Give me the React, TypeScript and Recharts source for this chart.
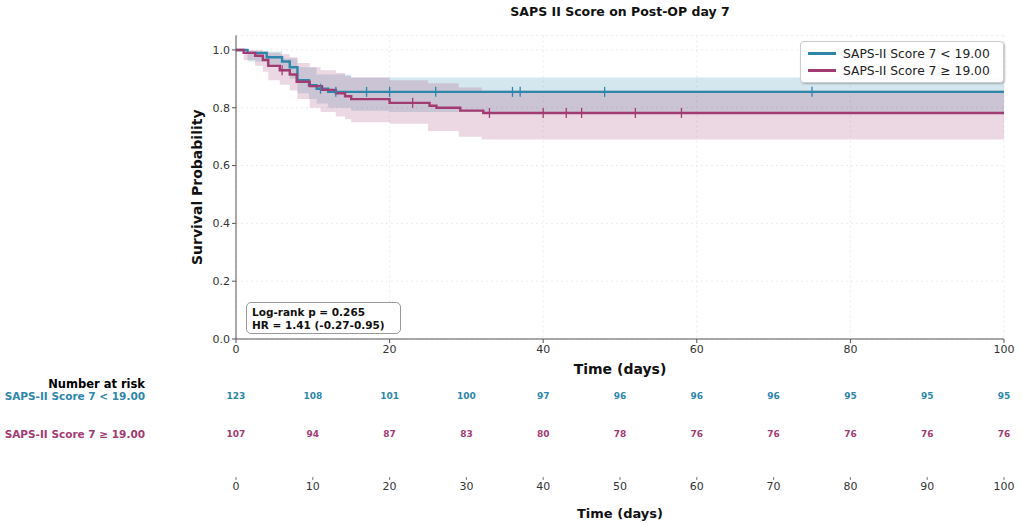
import {
  ComposedChart,
  Line,
  Area,
  Scatter,
  XAxis,
  YAxis,
  CartesianGrid,
} from "recharts";

const BLUE = "#2E86AB";
const MAGENTA = "#A23B72";
const FONT = "'DejaVu Sans', sans-serif";

const LOW_LABEL = "SAPS-II Score 7 < 19.00";
const HIGH_LABEL = "SAPS-II Score 7 ≥ 19.00";

// Kaplan-Meier steps, low score group
const LOW_T = [0, 1.5, 4, 6, 7, 8, 9.5, 10.5, 12, 100];
const LOW_S = [1.0, 0.99, 0.975, 0.96, 0.94, 0.895, 0.878, 0.866, 0.855, 0.855];
const LOW_CI_T = [0, 1.5, 4, 6, 7, 8, 9.5, 10.5, 12, 15, 20, 100];
const LOW_CI_LO = [1.0, 0.96, 0.945, 0.925, 0.9, 0.85, 0.83, 0.815, 0.8, 0.79, 0.785, 0.785];
const LOW_CI_HI = [1.0, 0.995, 0.995, 0.97, 0.97, 0.94, 0.94, 0.915, 0.915, 0.905, 0.905, 0.905];
const LOW_CENSOR = [11, 13, 17, 20, 26, 36, 37, 48, 75];

// high score group
const HIGH_T = [0, 1, 2.5, 3.5, 4.2, 5.7, 7, 7.9, 9.6, 11.2, 13, 14.2, 15, 20, 25.2, 26.1, 29.2, 32.2, 100];
const HIGH_S = [1.0, 0.99, 0.98, 0.965, 0.945, 0.93, 0.915, 0.89, 0.875, 0.862, 0.85, 0.84, 0.83, 0.817, 0.807, 0.8, 0.79, 0.782, 0.782];
const HIGH_CI_T = [0, 1, 2.5, 3.5, 4.2, 5.7, 7, 8, 9.6, 11, 13, 14.2, 15, 20, 25, 29, 32, 100];
const HIGH_CI_LO = [1.0, 0.965, 0.945, 0.925, 0.895, 0.88, 0.86, 0.83, 0.8, 0.785, 0.77, 0.76, 0.75, 0.745, 0.72, 0.7, 0.69, 0.69];
const HIGH_CI_HI = [1.0, 1.0, 1.0, 0.995, 0.99, 0.985, 0.975, 0.955, 0.94, 0.93, 0.92, 0.91, 0.905, 0.895, 0.885, 0.87, 0.86, 0.86];
const HIGH_CENSOR = [6, 23, 33, 40, 43, 45, 52, 58];

// number at risk
const RISK_T = [0, 10, 20, 30, 40, 50, 60, 70, 80, 90, 100];
const RISK_LOW = [123, 108, 101, 100, 97, 96, 96, 96, 95, 95, 95];
const RISK_HIGH = [107, 94, 87, 83, 80, 78, 76, 76, 76, 76, 76];

const X_TICKS = [0, 20, 40, 60, 80, 100];
const Y_TICKS = [0, 0.2, 0.4, 0.6, 0.8, 1.0];

const steps = (t: number[], s: number[]) => t.map((x, i) => ({ t: x, s: s[i] }));
const band = (t: number[], lo: number[], hi: number[]) =>
  t.map((x, i) => ({ t: x, ci: [lo[i], hi[i]] }));
const survAt = (t: number[], s: number[], x: number) => {
  let v = s[0];
  t.forEach((tt, i) => {
    if (tt <= x) v = s[i];
  });
  return v;
};
const censor = (c: number[], t: number[], s: number[]) =>
  c.map((x) => ({ t: x, s: survAt(t, s, x) }));

// rows of the at-risk table (fraction of table height)
const ROW_HEAD = 0.96;
const ROW_LOW = 0.835;
const ROW_HIGH = 0.44;

const riskRows = (n: number[], row: number) => RISK_T.map((t, i) => ({ t, n: n[i], row }));

const censorShape = (color: string) => (p: any) => (
  <line x1={p.cx} x2={p.cx} y1={p.cy - 5} y2={p.cy + 5} stroke={color} strokeWidth={1.3} />
);

const riskShape = (color: string) => (p: any) => (
  <text
    x={p.cx}
    y={p.cy}
    textAnchor="middle"
    dominantBaseline="central"
    fontSize={9}
    fontWeight="bold"
    fill={color}
    fontFamily={FONT}
  >
    {p.payload.n}
  </text>
);

function RowTick(props: any) {
  const { y, payload } = props;
  const v = payload.value;
  const head = v === ROW_HEAD;
  const text = head ? "Number at risk" : v === ROW_LOW ? LOW_LABEL : HIGH_LABEL;
  const color = head ? "#000" : v === ROW_LOW ? BLUE : MAGENTA;
  return (
    <text
      x={145}
      y={y}
      textAnchor="end"
      dominantBaseline="central"
      fontSize={head ? 11.5 : 10.5}
      fontWeight="bold"
      fill={color}
      fontFamily={FONT}
    >
      {text}
    </text>
  );
}

export default function App() {
  return (
    <div
      style={{
        position: "absolute",
        left: 0,
        top: 0,
        width: 1022,
        height: 524,
        background: "#fff",
        fontFamily: FONT,
      }}
    >
      <div
        style={{
          position: "absolute",
          top: 4,
          left: 236,
          width: 768,
          textAlign: "center",
          fontSize: 12.5,
          fontWeight: "bold",
          color: "#111",
        }}
      >
        SAPS II Score on Post-OP day 7
      </div>

      <div style={{ position: "absolute", left: 0, top: 0 }}>
        <ComposedChart width={1022} height={380} margin={{ top: 35.5, right: 18, bottom: 1, left: 176 }}>
          <CartesianGrid stroke="#ececec" strokeDasharray="2 3" />
          <XAxis
            type="number"
            dataKey="t"
            domain={[0, 100]}
            ticks={X_TICKS}
            allowDataOverflow
            height={40}
            tickSize={4}
            stroke="#555"
            tick={{ fontSize: 11, fill: "#333", fontFamily: FONT }}
            label={{
              value: "Time (days)",
              position: "insideBottom",
              offset: 5,
              style: { fontSize: 14, fontWeight: "bold", fill: "#111", fontFamily: FONT },
            }}
          />
          <YAxis
            type="number"
            domain={[0, 1.05]}
            ticks={Y_TICKS}
            width={60}
            tickSize={4}
            stroke="#555"
            tickFormatter={(v: number) => v.toFixed(1)}
            tick={{ fontSize: 11, fill: "#333", fontFamily: FONT }}
            label={{
              value: "Survival Probability",
              angle: -90,
              position: "insideLeft",
              offset: 21,
              style: { textAnchor: "middle", fontSize: 14, fontWeight: "bold", fill: "#111", fontFamily: FONT },
            }}
          />
          <Area
            data={band(LOW_CI_T, LOW_CI_LO, LOW_CI_HI)}
            dataKey="ci"
            type="stepAfter"
            stroke="none"
            fill={BLUE}
            fillOpacity={0.2}
            isAnimationActive={false}
          />
          <Area
            data={band(HIGH_CI_T, HIGH_CI_LO, HIGH_CI_HI)}
            dataKey="ci"
            type="stepAfter"
            stroke="none"
            fill={MAGENTA}
            fillOpacity={0.2}
            isAnimationActive={false}
          />
          <Line
            data={steps(LOW_T, LOW_S)}
            dataKey="s"
            type="stepAfter"
            stroke={BLUE}
            strokeWidth={2.4}
            dot={false}
            isAnimationActive={false}
          />
          <Line
            data={steps(HIGH_T, HIGH_S)}
            dataKey="s"
            type="stepAfter"
            stroke={MAGENTA}
            strokeWidth={2.4}
            dot={false}
            isAnimationActive={false}
          />
          <Scatter
            data={censor(LOW_CENSOR, LOW_T, LOW_S)}
            dataKey="s"
            shape={censorShape(BLUE)}
            isAnimationActive={false}
          />
          <Scatter
            data={censor(HIGH_CENSOR, HIGH_T, HIGH_S)}
            dataKey="s"
            shape={censorShape(MAGENTA)}
            isAnimationActive={false}
          />
        </ComposedChart>
      </div>

      {/* legend */}
      <div
        style={{
          position: "absolute",
          left: 800,
          top: 41,
          width: 202,
          padding: "3px 0",
          border: "1px solid #ccc",
          borderRadius: 4,
          background: "rgba(255,255,255,0.92)",
          boxShadow: "1px 1px 2px rgba(0,0,0,0.25)",
          fontSize: 12.3,
          color: "#222",
          whiteSpace: "nowrap",
        }}
      >
        {[
          { label: LOW_LABEL, color: BLUE },
          { label: HIGH_LABEL, color: MAGENTA },
        ].map((e) => (
          <div key={e.label} style={{ display: "flex", alignItems: "center", height: 17 }}>
            <span style={{ display: "inline-block", width: 28, height: 2.4, background: e.color, margin: "0 7px 0 7px" }} />
            {e.label}
          </div>
        ))}
      </div>

      {/* log-rank box */}
      <div
        style={{
          position: "absolute",
          left: 246,
          top: 302,
          width: 155,
          height: 32,
          boxSizing: "border-box",
          padding: "3px 0 0 5px",
          border: "1px solid #999",
          borderRadius: 5,
          background: "rgba(255,255,255,0.9)",
          fontSize: 10.5,
          fontWeight: "bold",
          lineHeight: "13px",
          color: "#111",
        }}
      >
        <div>Log-rank p = 0.265</div>
        <div>HR = 1.41 (-0.27-0.95)</div>
      </div>

      {/* number at risk */}
      <div style={{ position: "absolute", left: 0, top: 372 }}>
        <ComposedChart width={1022} height={152} margin={{ top: 8, right: 18, bottom: 0, left: 176 }}>
          <XAxis
            type="number"
            dataKey="t"
            domain={[0, 100]}
            ticks={RISK_T}
            interval={0}
            height={47}
            axisLine={false}
            tickSize={3}
            tickLine={{ stroke: "#777" }}
            tick={{ fontSize: 11, fill: "#333", fontFamily: FONT }}
            label={{
              value: "Time (days)",
              position: "insideBottom",
              offset: 6,
              style: { fontSize: 13, fontWeight: "bold", fill: "#111", fontFamily: FONT },
            }}
          />
          <YAxis
            type="number"
            domain={[0, 1]}
            ticks={[ROW_HIGH, ROW_LOW, ROW_HEAD]}
            interval={0}
            width={60}
            axisLine={false}
            tickLine={false}
            tick={<RowTick />}
          />
          <Scatter
            data={riskRows(RISK_LOW, ROW_LOW)}
            dataKey="row"
            shape={riskShape(BLUE)}
            isAnimationActive={false}
          />
          <Scatter
            data={riskRows(RISK_HIGH, ROW_HIGH)}
            dataKey="row"
            shape={riskShape(MAGENTA)}
            isAnimationActive={false}
          />
        </ComposedChart>
      </div>
    </div>
  );
}
